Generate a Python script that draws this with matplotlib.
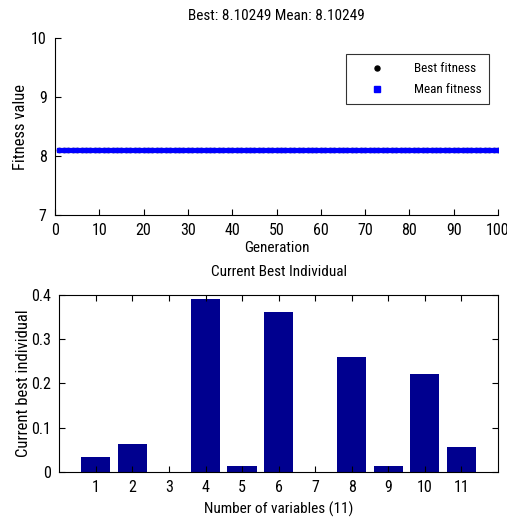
import matplotlib
matplotlib.use("Agg")
import matplotlib.pyplot as plt

plt.rcParams['font.family'] = ['Roboto Condensed', 'Liberation Sans', 'DejaVu Sans']

# GA progress (top panel)
generations = list(range(1, 101))
best_fitness = [8.10249] * 100
mean_fitness = [8.10249] * 100
best_value = 8.10249
mean_value = 8.10249

# current best individual (bottom panel)
variables = [1, 2, 3, 4, 5, 6, 7, 8, 9, 10, 11]
best_individual = [0.034, 0.062, 0.0, 0.392, 0.013, 0.362, 0.0, 0.260, 0.013, 0.221, 0.055]

fig = plt.figure(figsize=(5.07, 5.20), dpi=100)

ax1 = fig.add_axes([0.1085, 0.5865, 0.8738, 0.3404])
ax1.plot(generations, best_fitness, linestyle="none", marker="o", color="black",
         markersize=3, label="Best fitness")
ax1.plot(generations, mean_fitness, linestyle="none", marker="s", color="#0000ff",
         markersize=3.5, label="Mean fitness")
ax1.set_xlim(0, 100)
ax1.set_ylim(7, 10)
ax1.set_xticks(range(0, 101, 10))
ax1.set_yticks([7, 8, 9, 10])
ax1.spines["top"].set_visible(False)
ax1.spines["right"].set_visible(False)
ax1.tick_params(direction="in", labelsize=11.5, length=4, pad=6)
ax1.set_xlabel("Generation", fontsize=11, labelpad=2)
ax1.set_ylabel("Fitness value", fontsize=12, labelpad=2)
ax1.set_title(f"Best: {best_value} Mean: {mean_value}", fontsize=11, pad=13)
leg = ax1.legend(loc="upper right", bbox_to_anchor=(0.995, 0.945), fontsize=9.5,
                 fancybox=False, edgecolor="black", handlelength=3.5, handletextpad=1.0,
                 borderpad=0.6, labelspacing=0.6, markerscale=1.2)
leg.get_frame().set_linewidth(0.8)

ax2 = fig.add_axes([0.117, 0.0929, 0.865, 0.3398])
ax2.bar(variables, best_individual, width=0.8, color="#00008f", linewidth=0)
ax2.set_xlim(0, 12)
ax2.set_ylim(0, 0.4)
ax2.set_xticks(variables)
ax2.set_yticks([0, 0.1, 0.2, 0.3, 0.4])
ax2.set_yticklabels(["0", "0.1", "0.2", "0.3", "0.4"])
ax2.tick_params(direction="in", labelsize=11.5, length=4, top=True, right=True, pad=6)
ax2.set_xlabel("Number of variables (11)", fontsize=11, labelpad=5)
ax2.set_ylabel("Current best individual", fontsize=12, labelpad=0)
ax2.set_title("Current Best Individual", fontsize=11, pad=14)

fig.savefig("out.png", dpi=100)
